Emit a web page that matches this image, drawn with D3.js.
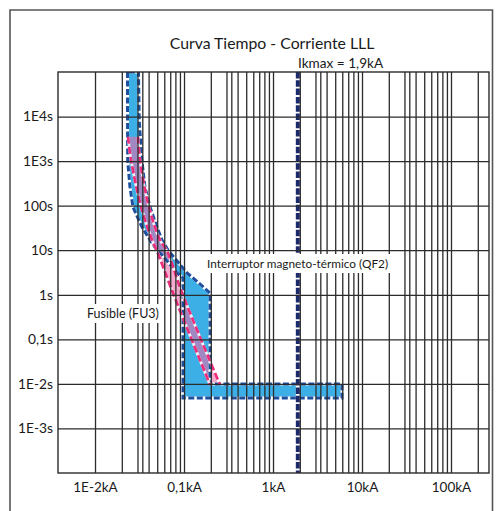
<!DOCTYPE html>
<html>
<head>
<meta charset="utf-8">
<script src="https://cdn.jsdelivr.net/npm/d3@7"></script>
<style>
  body { margin: 0; background: #fff; }
  svg { display: block; }
  text { font-family: Lato, "Open Sans", sans-serif; fill: #1a1a1a; }
</style>
</head>
<body>
<svg id="chart" width="497" height="511"></svg>
<script>
// Current axis (kA), logarithmic
const xTickValues = [0.01, 0.1, 1, 10, 100];
const xTickLabels = ["1E-2kA", "0,1kA", "1kA", "10kA", "100kA"];
// Time axis (s), logarithmic
const yTickValues = [1e4, 1e3, 100, 10, 1, 0.1, 0.01, 0.001];
const yTickLabels = ["1E4s", "1E3s", "100s", "10s", "1s", "0,1s", "1E-2s", "1E-3s"];
// Vertical grid: multiples drawn inside each decade
const gridDecades = [0.01, 0.1, 1, 10, 100];
const gridMultiples = [1, 2, 3, 3.4, 4, 5, 6, 7, 8, 9];

// Circuit breaker QF2: tripping band (time in s, min / max current in kA)
const breakerTimes = [1e5, 8000, 1000, 260, 93, 33, 17, 10, 7.8, 3.1, 2.4, 1.09, 0.01, 0.01, 0.0048];
const breakerMinKA = [0.0232, 0.0232, 0.0233, 0.0247, 0.0267, 0.0337, 0.0415, 0.0497, 0.0566, 0.0834, 0.0975, 0.0975, 0.0975, 0.0975, 0.0975];
const breakerMaxKA = [0.0308, 0.0314, 0.0337, 0.0364, 0.0415, 0.0497, 0.0566, 0.0661, 0.0733, 0.108, 0.126, 0.196, 0.196, 5.96, 5.96];

// Fuse FU3: melting band (time in s, min / max current in kA)
const fuseTimes = [3500, 1050, 93, 17, 9.6, 1.1, 0.0095];
const fuseMinKA = [0.0235, 0.0254, 0.033, 0.0437, 0.0497, 0.0752, 0.196];
const fuseMaxKA = [0.0304, 0.032, 0.0404, 0.0537, 0.0644, 0.095, 0.254];

// Maximum short-circuit current
const ikmaxKA = 1.9;
const ikmaxLabel = "Ikmax = 1,9kA";

const chartTitle = "Curva Tiempo - Corriente LLL";
const breakerLabel = "Interruptor magneto-térmico (QF2)";
const fuseLabel = "Fusible (FU3)";

const svg = d3.select("#chart");
const pLeft = 58, pRight = 489, pTop = 72, pBottom = 473;

const x = d3.scaleLog().domain([Math.pow(10, -2.416), Math.pow(10, 2.427)]).range([pLeft, pRight]);
const y = d3.scaleLog().domain([1e-4, 1e5]).range([pBottom, pTop]);

// Outer frame
svg.append("path")
  .attr("d", "M10,511 V10 H492.5 V511")
  .attr("fill", "none").attr("stroke", "#555").attr("stroke-width", 1.6);

svg.append("defs").append("clipPath").attr("id", "plotClip")
  .append("rect").attr("x", pLeft).attr("y", pTop).attr("width", pRight - pLeft).attr("height", pBottom - pTop);

const plot = svg.append("g").attr("clip-path", "url(#plotClip)");

// Breaker band fill
const breakerPts = breakerTimes.map((t, i) => [breakerMinKA[i], t])
  .concat(breakerTimes.map((t, i) => [breakerMaxKA[i], t]).reverse());
const polyLine = d3.line().x(d => x(d[0])).y(d => y(d[1])).curve(d3.curveLinearClosed);
plot.append("path").attr("d", polyLine(breakerPts)).attr("fill", "#3cb0e6");

// Fuse band fill
const fuseArea = d3.area()
  .y((d, i) => y(fuseTimes[i]))
  .x0((d, i) => x(fuseMinKA[i]))
  .x1((d, i) => x(fuseMaxKA[i]))
  .curve(d3.curveCatmullRom);
plot.append("path").attr("d", fuseArea(fuseTimes))
  .attr("fill", "rgb(235,106,167)").attr("fill-opacity", 0.57);

// Grid
const gridVals = [];
gridDecades.forEach(d => gridMultiples.forEach(m => {
  const v = d * m;
  if (v <= x.domain()[1]) gridVals.push(v);
}));
const gridX = svg.append("g").attr("transform", `translate(0,${pBottom})`)
  .call(d3.axisBottom(x).tickValues(gridVals).tickSize(-(pBottom - pTop)).tickFormat(""));
const gridY = svg.append("g").attr("transform", `translate(${pLeft},0)`)
  .call(d3.axisLeft(y).tickValues(yTickValues).tickSize(-(pRight - pLeft)).tickFormat(""));
[gridX, gridY].forEach(g => {
  g.select(".domain").remove();
  g.selectAll("line").attr("stroke", "#2b2b2b").attr("stroke-width", 1.3);
});
svg.append("rect").attr("x", pLeft).attr("y", pTop).attr("width", pRight - pLeft).attr("height", pBottom - pTop)
  .attr("fill", "none").attr("stroke", "#2b2b2b").attr("stroke-width", 1.4);

// Breaker outline (dashed over a white underlay)
plot.append("path").attr("d", polyLine(breakerPts))
  .attr("fill", "none").attr("stroke", "#fff").attr("stroke-width", 3);
plot.append("path").attr("d", polyLine(breakerPts))
  .attr("fill", "none").attr("stroke", "#1d4f9e").attr("stroke-width", 3)
  .attr("stroke-dasharray", "6,2.5");

// Fuse outline: both edges of the band
[fuseArea.lineX0(), fuseArea.lineX1()].forEach(edge => {
  plot.append("path").attr("d", edge(fuseTimes))
    .attr("fill", "none").attr("stroke", "#fff").attr("stroke-width", 2.8).attr("stroke-opacity", 0.85);
  plot.append("path").attr("d", edge(fuseTimes))
    .attr("fill", "none").attr("stroke", "#ec2f7c").attr("stroke-width", 2.8)
    .attr("stroke-dasharray", "7,3");
});

// Ikmax vertical marker
plot.append("line")
  .attr("x1", x(ikmaxKA)).attr("x2", x(ikmaxKA)).attr("y1", pTop).attr("y2", pBottom)
  .attr("stroke", "#fff").attr("stroke-width", 4);
plot.append("line")
  .attr("x1", x(ikmaxKA)).attr("x2", x(ikmaxKA)).attr("y1", pTop).attr("y2", pBottom)
  .attr("stroke", "#1b2a6b").attr("stroke-width", 4).attr("stroke-dasharray", "6.5,1.8");

// Axis labels
const ax = svg.append("g").attr("transform", `translate(0,${pBottom})`)
  .call(d3.axisBottom(x).tickValues(xTickValues).tickSize(0).tickPadding(9)
    .tickFormat((d, i) => xTickLabels[i]));
const ay = svg.append("g").attr("transform", `translate(${pLeft},0)`)
  .call(d3.axisLeft(y).tickValues(yTickValues).tickSize(0).tickPadding(5)
    .tickFormat((d, i) => yTickLabels[i]));
ax.selectAll("text").attr("font-size", 13.5);
ay.selectAll("text").attr("font-size", 13.8);
[ax, ay].forEach(g => {
  g.select(".domain").remove();
  g.selectAll("text").attr("font-family", "Lato, sans-serif").attr("fill", "#1a1a1a");
});

// Title and Ikmax label
svg.append("text").attr("x", 272).attr("y", 49).attr("text-anchor", "middle")
  .attr("font-size", 15.8).text(chartTitle);
svg.append("text").attr("x", 298).attr("y", 68).attr("font-size", 13.6).text(ikmaxLabel);

// Curve labels on white boxes
function boxedLabel(txt, lx, ly, fs) {
  const g = svg.append("g");
  const r = g.append("rect").attr("fill", "#fff");
  const t = g.append("text").attr("x", lx).attr("y", ly).attr("font-size", fs).text(txt);
  const b = t.node().getBBox();
  r.attr("x", b.x - 3).attr("y", b.y - 2).attr("width", b.width + 6).attr("height", b.height + 4);
}
boxedLabel(breakerLabel, 207, 268, 11.8);
boxedLabel(fuseLabel, 87, 318, 12.5);
</script>
</body>
</html>
